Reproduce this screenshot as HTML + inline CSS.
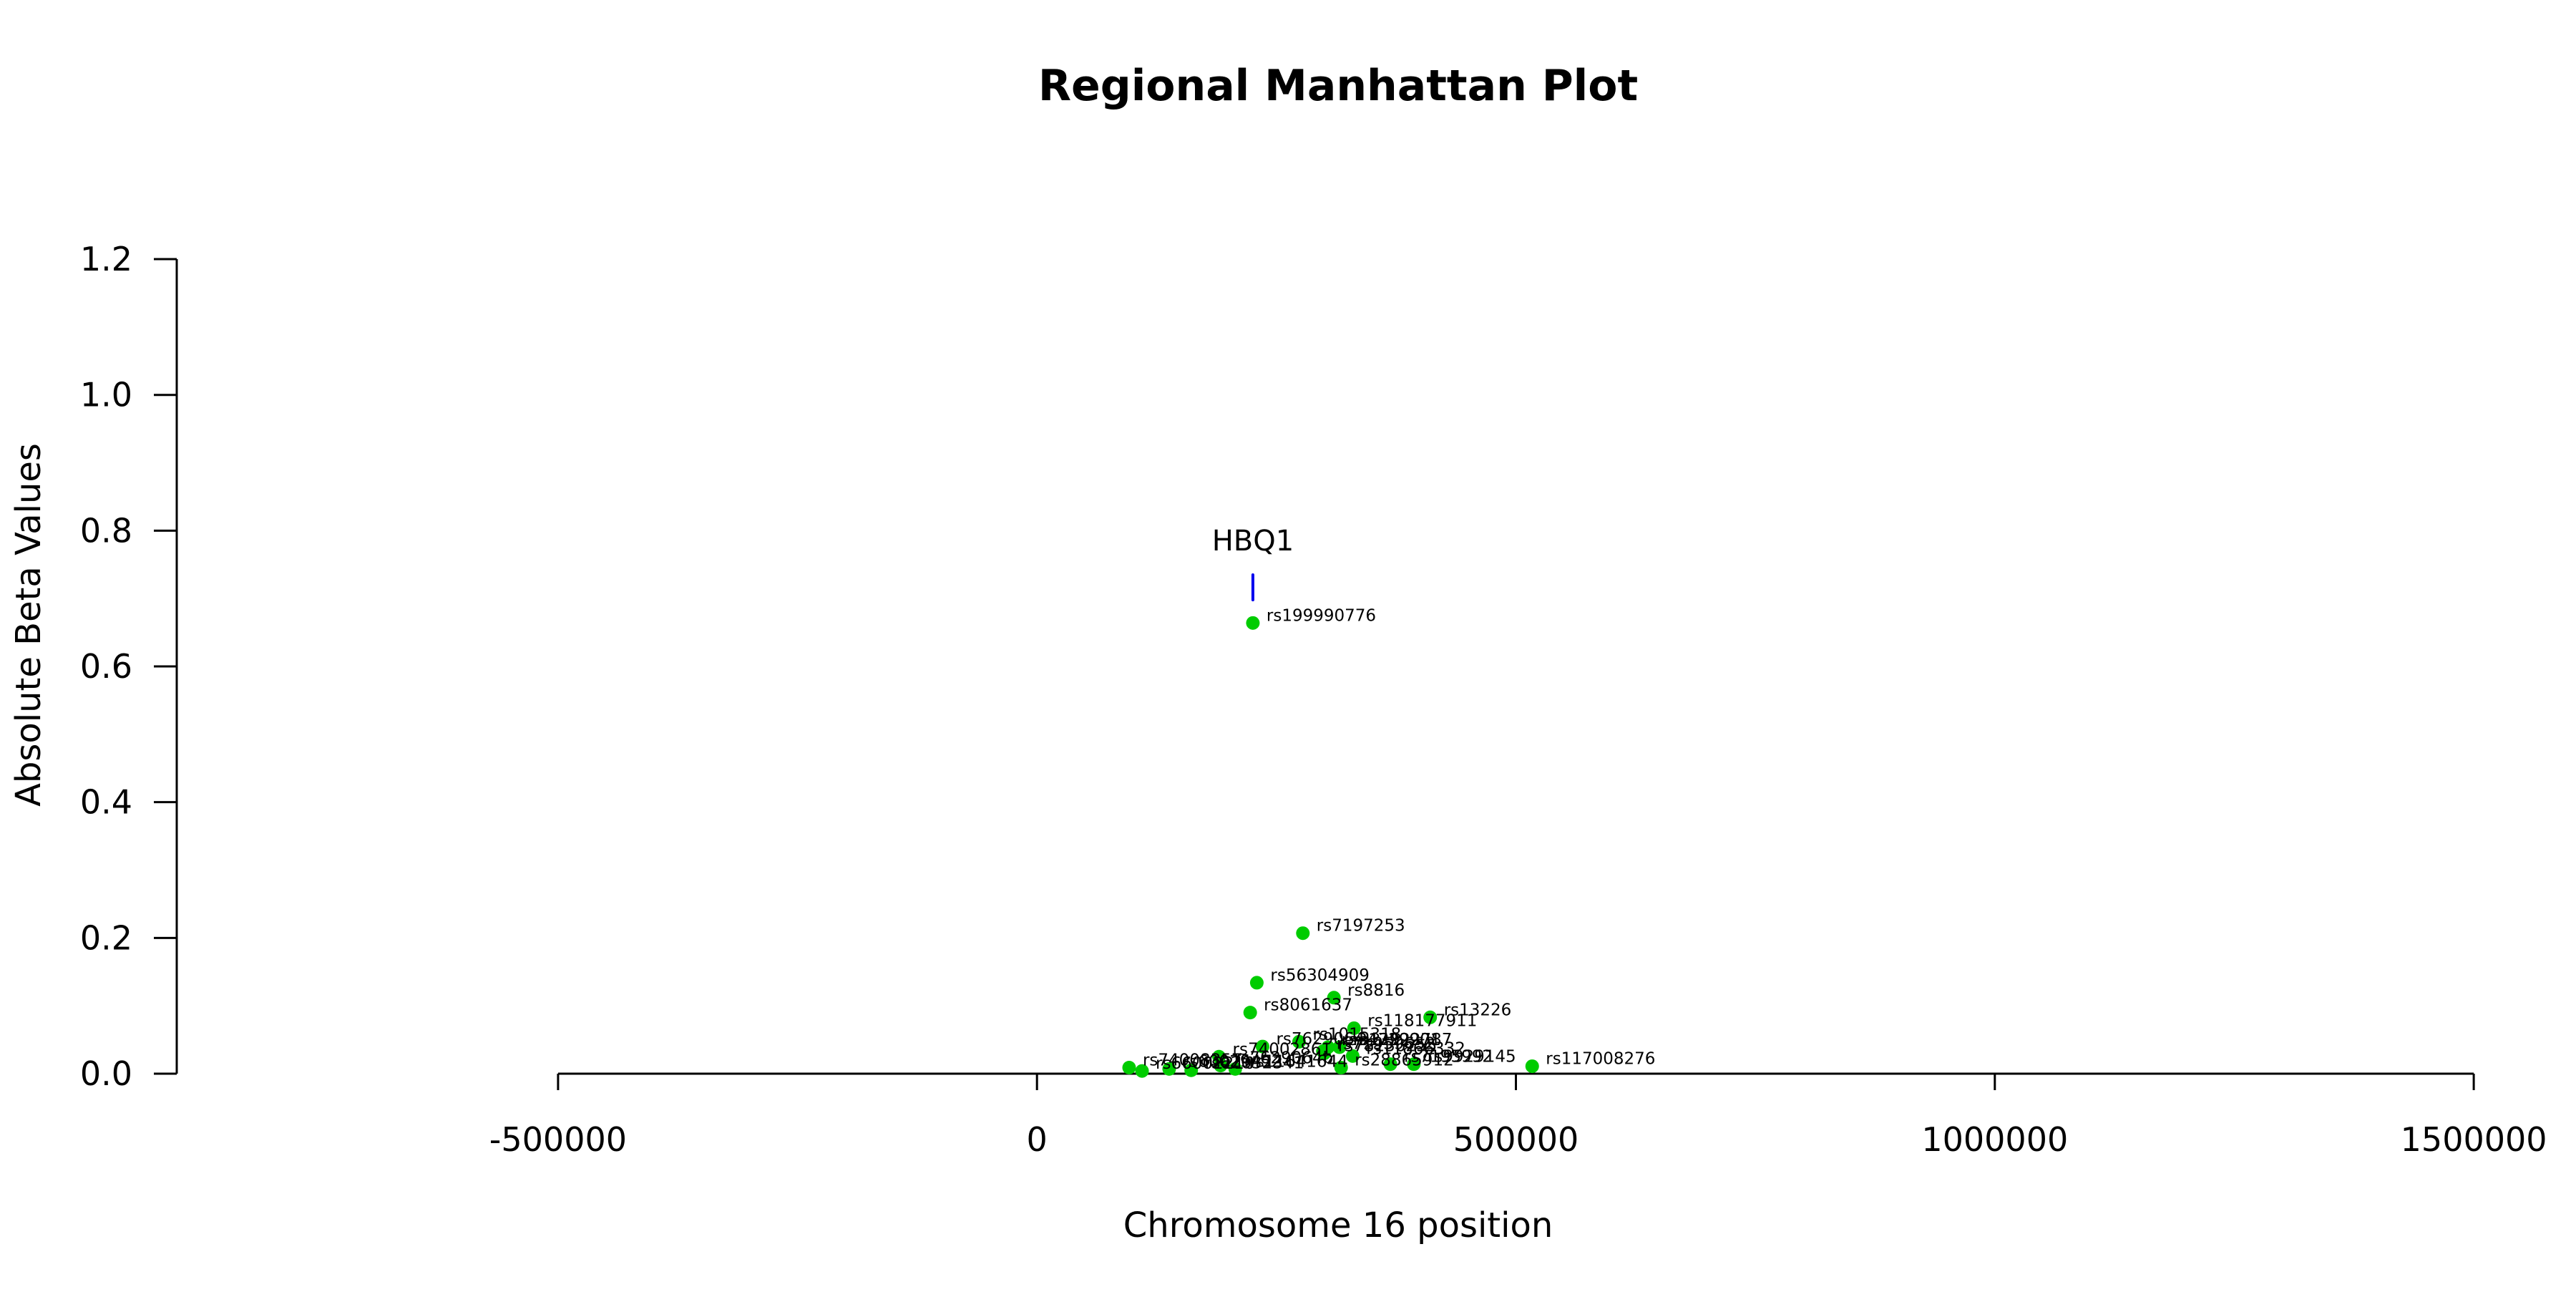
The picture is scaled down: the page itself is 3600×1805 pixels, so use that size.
<!DOCTYPE html>
<html><head><meta charset="utf-8"><style>
html,body{margin:0;padding:0;background:#fff;}
svg text{font-family:"DejaVu Sans","Liberation Sans",sans-serif;}
</style></head><body>
<svg id="chart" width="3600" height="1800" viewBox="0 0 3600 1800" xmlns="http://www.w3.org/2000/svg">
<rect width="3600" height="1800" fill="#fff"/>
<text x="1870" y="140" font-size="60" font-weight="bold" text-anchor="middle">Regional Manhattan Plot</text>
<text x="1870" y="1728" font-size="48" text-anchor="middle">Chromosome 16 position</text>
<text x="0" y="0" font-size="48" text-anchor="middle" transform="translate(56,873) rotate(-90)">Absolute Beta Values</text>
<g id="axes"></g>
<g id="gene"></g>
<g id="points"></g>
</svg>
<script>
const xTicks = [-500000, 0, 500000, 1000000, 1500000];
const yTicks = [0.0, 0.2, 0.4, 0.6, 0.8, 1.0, 1.2];
const snpNames = ["rs199990776","rs7197253","rs56304909","rs8816","rs8061637","rs13226","rs118177911","rs117008276",
 "rs74008357","rs66002210","rs60029452","rs62032341","rs74002861","rs7629064b","rs11641644","rs7629064","rs1015318","rs71959652","rs34729901","rs12922787","rs28865912","rs11866332","rs7195992","rs9929145","rs78136255"];
const snpPos = [225400,277600,229500,310000,222600,410500,331000,517000,
 96200,109700,138000,161000,190000,191700,207000,235500,273600,298500,303800,315800,317500,329600,369000,393400,300000];
const snpBeta = [0.664,0.207,0.134,0.112,0.090,0.083,0.067,0.011,
 0.009,0.004,0.007,0.005,0.025,0.012,0.007,0.040,0.047,0.033,0.039,0.039,0.009,0.026,0.014,0.014,0.030];
const geneNames = ["HBQ1"];
const geneStart = [225400];
const geneBetaTop = [0.735];
const geneBetaBottom = [0.698];

const NS = "http://www.w3.org/2000/svg";
function xs(v){ return 1449.2 + v * (669.3/500000); }
function ys(v){ return 1500 - v * 948.3; }
function mk(tag, attrs, parent){ const e=document.createElementNS(NS,tag); for(const k in attrs) e.setAttribute(k,attrs[k]); parent.appendChild(e); return e; }

const axes = document.getElementById("axes");
let a = mk("line",{x1:xs(-500000),x2:xs(1500000),y1:1500,y2:1500,stroke:"#000","stroke-width":3},axes);


a = mk("line",{x1:247,x2:247,y1:ys(1.2),y2:ys(0),stroke:"#000","stroke-width":3},axes);


xTicks.forEach(t=>{
  const l = mk("line",{x1:xs(t),x2:xs(t),y1:1500,y2:1523,stroke:"#000","stroke-width":3},axes);
  
  
  const tx = mk("text",{x:xs(t),y:1608,"font-size":46,"text-anchor":"middle"},axes);
  
  
  tx.textContent = String(t);
});
yTicks.forEach(t=>{
  const l = mk("line",{x1:215,x2:247,y1:ys(t),y2:ys(t),stroke:"#000","stroke-width":3},axes);
  
  
  const tx = mk("text",{x:185,y:ys(t)+16,"font-size":46,"text-anchor":"end"},axes);
  
  
  tx.textContent = t.toFixed(1);
});

const gene = document.getElementById("gene");
geneNames.forEach((g,i)=>{
  const l = mk("line",{x1:xs(geneStart[i]),x2:xs(geneStart[i]),y1:ys(geneBetaTop[i]),y2:ys(geneBetaBottom[i]),stroke:"#0000ee","stroke-width":4,"stroke-linecap":"round"},gene);
  
  
  const tx = mk("text",{x:xs(geneStart[i]),y:ys(geneBetaTop[i])-34,"font-size":40,"text-anchor":"middle"},gene);
  
  
  tx.textContent = g;
});

const pts = document.getElementById("points");
snpNames.forEach((n,i)=>{
  const c = mk("circle",{cx:xs(snpPos[i]),cy:ys(snpBeta[i]),r:9.5,fill:"#00cc00"},pts);
  
  
});
snpNames.forEach((n,i)=>{
  const tx = mk("text",{x:xs(snpPos[i])+19,y:ys(snpBeta[i])-3,"font-size":23},pts);
  
  
  tx.textContent = n;
});
</script>
</body></html>
